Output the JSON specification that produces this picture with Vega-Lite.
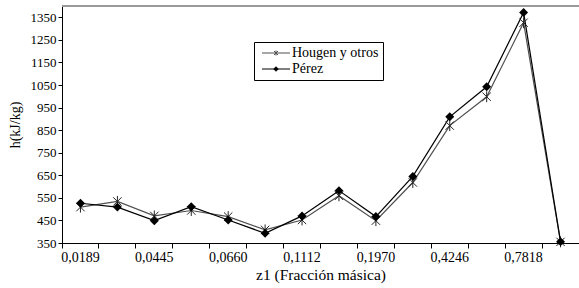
{
  "$schema": "https://vega.github.io/schema/vega-lite/v6.json",
  "width": 517,
  "height": 237,
  "autosize": {"type": "none"},
  "padding": {"left": 62, "top": 6, "right": 0, "bottom": 45},
  "background": "white",
  "config": {
    "view": {"stroke": null},
    "font": "Liberation Serif",
    "text": {"font": "Liberation Serif"},
    "legend": {"labelFont": "Liberation Serif", "titleFont": "Liberation Serif"},
    "axis": {"labelFont": "Liberation Serif", "titleFont": "Liberation Serif", "labelColor": "black", "titleColor": "black", "domainColor": "black", "tickColor": "black", "grid": false, "titleFontWeight": "normal"}
  },
  "data": {
    "values": [
      {"z1": "0,0189", "serie": "Hougen y otros", "h": 509},
      {"z1": "0,0300", "serie": "Hougen y otros", "h": 534},
      {"z1": "0,0445", "serie": "Hougen y otros", "h": 470},
      {"z1": "0,0550", "serie": "Hougen y otros", "h": 494},
      {"z1": "0,0660", "serie": "Hougen y otros", "h": 467},
      {"z1": "0,0880", "serie": "Hougen y otros", "h": 408},
      {"z1": "0,1112", "serie": "Hougen y otros", "h": 452},
      {"z1": "0,1500", "serie": "Hougen y otros", "h": 559},
      {"z1": "0,1970", "serie": "Hougen y otros", "h": 449},
      {"z1": "0,3000", "serie": "Hougen y otros", "h": 618},
      {"z1": "0,4246", "serie": "Hougen y otros", "h": 870},
      {"z1": "0,6000", "serie": "Hougen y otros", "h": 998},
      {"z1": "0,7818", "serie": "Hougen y otros", "h": 1326},
      {"z1": "0,9000", "serie": "Hougen y otros", "h": 355},
      {"z1": "0,0189", "serie": "Pérez", "h": 526},
      {"z1": "0,0300", "serie": "Pérez", "h": 509},
      {"z1": "0,0445", "serie": "Pérez", "h": 449},
      {"z1": "0,0550", "serie": "Pérez", "h": 511},
      {"z1": "0,0660", "serie": "Pérez", "h": 452},
      {"z1": "0,0880", "serie": "Pérez", "h": 393},
      {"z1": "0,1112", "serie": "Pérez", "h": 470},
      {"z1": "0,1500", "serie": "Pérez", "h": 582},
      {"z1": "0,1970", "serie": "Pérez", "h": 467},
      {"z1": "0,3000", "serie": "Pérez", "h": 645},
      {"z1": "0,4246", "serie": "Pérez", "h": 909},
      {"z1": "0,6000", "serie": "Pérez", "h": 1042},
      {"z1": "0,7818", "serie": "Pérez", "h": 1371},
      {"z1": "0,9000", "serie": "Pérez", "h": 356}
    ]
  },
  "encoding": {
    "x": {
      "field": "z1", "type": "nominal", "sort": null, "bandPosition": 0.5,
      "scale": {"type": "band", "paddingInner": 0, "paddingOuter": 0},
      "axis": {
        "title": "z1 (Fracción másica)", "titleFontSize": 15.5, "titlePadding": 3,
        "labelFontSize": 14, "labelAngle": 0, "labelOverlap": false, "labelPadding": 2,
        "bandPosition": 0, "tickSize": 5,
        "labelExpr": "indexof(['0,0189','0,0445','0,0660','0,1112','0,1970','0,4246','0,7818'], datum.value) >= 0 ? datum.label : ''"
      }
    },
    "y": {
      "field": "h", "type": "quantitative",
      "scale": {"domain": [350, 1400], "nice": false, "zero": false},
      "axis": {
        "title": "h(kJ/kg)", "titleFontSize": 14, "titlePadding": 8, "format": "d",
        "labelFontSize": 13, "tickSize": 4, "labelPadding": 2,
        "values": [350, 450, 550, 650, 750, 850, 950, 1050, 1150, 1250, 1350]
      }
    }
  },
  "layer": [
    {
      "mark": {"type": "rule", "color": "#999999", "strokeWidth": 1},
      "encoding": {"y": {"datum": 1400}, "x": null}
    },
    {
      "mark": {"type": "line", "strokeWidth": 1.2},
      "encoding": {
        "color": {
          "field": "serie", "type": "nominal",
          "scale": {"domain": ["Hougen y otros", "Pérez"], "range": ["#505050", "#000000"]},
          "legend": {
            "title": null, "orient": "none", "legendX": 192, "legendY": 36,
            "strokeColor": "black", "fillColor": "white", "padding": 4,
            "labelFont": "Liberation Serif", "labelFontSize": 14, "labelColor": "black",
            "symbolSize": 100, "symbolStrokeWidth": 1, "symbolOffset": 11, "labelOffset": 9, "rowPadding": 2,
            "symbolType": "M-1,0H1",
            "encode": {
              "symbols": {
                "update": {
                  "shape": {"signal": "datum.value === 'Pérez' ? 'M-2.8,0H2.8M0,-0.45L0.45,0L0,0.45L-0.45,0Z' : 'M-2.8,0H2.8M-0.4,-0.4L0.4,0.4M-0.4,0.4L0.4,-0.4M0,-0.5V0.5'"},
                  "fill": {"signal": "datum.value === 'Pérez' ? 'black' : 'transparent'"},
                  "stroke": {"value": "black"}
                }
              }
            }
          }
        }
      }
    },
    {
      "transform": [{"filter": "datum.serie === 'Hougen y otros'"}],
      "mark": {"type": "point", "shape": "M-1,-1L1,1M-1,1L1,-1M0,-1.3V1.3", "filled": false, "stroke": "#222222", "strokeWidth": 1, "size": 70, "opacity": 1}
    },
    {
      "transform": [{"filter": "datum.serie === 'Pérez'"}],
      "mark": {"type": "point", "shape": "diamond", "filled": true, "color": "black", "size": 80, "opacity": 1}
    }
  ]
}
